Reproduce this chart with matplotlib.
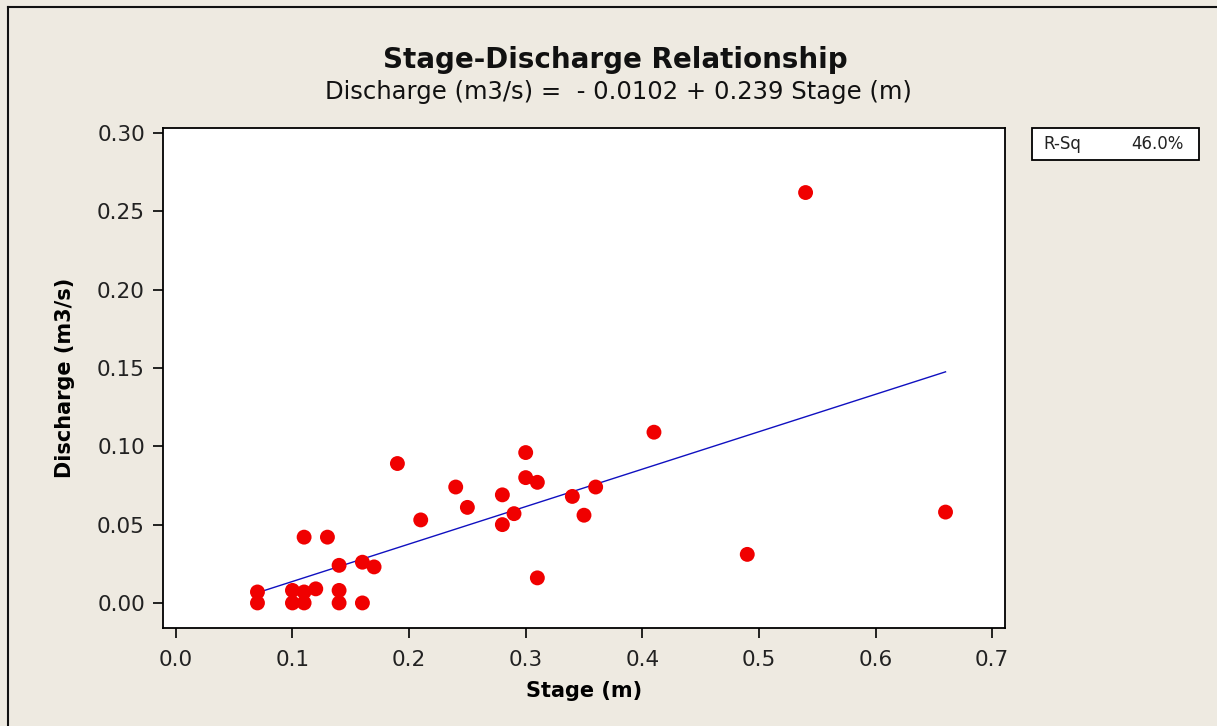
import matplotlib
matplotlib.use("Agg")
import matplotlib.pyplot as plt
from matplotlib.lines import Line2D
import numpy as np

# Data
stage = [0.07, 0.07, 0.10, 0.10, 0.11, 0.11, 0.12, 0.14, 0.14, 0.16,
         0.14, 0.16, 0.17, 0.11, 0.13, 0.19, 0.21, 0.24, 0.25, 0.28,
         0.28, 0.29, 0.30, 0.30, 0.31, 0.31, 0.34, 0.35, 0.36, 0.41,
         0.49, 0.54, 0.66]
discharge = [0.007, 0.000, 0.008, 0.000, 0.007, 0.000, 0.009, 0.008, 0.000, 0.000,
             0.024, 0.026, 0.023, 0.042, 0.042, 0.089, 0.053, 0.074, 0.061, 0.069,
             0.050, 0.057, 0.096, 0.080, 0.077, 0.016, 0.068, 0.056, 0.074, 0.109,
             0.031, 0.262, 0.058]
intercept = -0.0102
slope = 0.239
r_sq_label = "46.0%"
x_ticks = [0.0, 0.1, 0.2, 0.3, 0.4, 0.5, 0.6, 0.7]
y_ticks = [0.00, 0.05, 0.10, 0.15, 0.20, 0.25, 0.30]

bg = "#EEEAE1"
fig = plt.figure(figsize=(12.17, 7.26), dpi=100, facecolor=bg)
ax = fig.add_axes([163/1217, 1-628/726, (1005-163)/1217, (628-128)/726])
ax.set_facecolor("white")

xs = np.array([min(stage), max(stage)])
ax.plot(xs, intercept + slope * xs, color="#1010C0", lw=1.0, zorder=2)
ax.scatter(stage, discharge, s=115, color="#F00000", edgecolors="none", zorder=3)

ax.set_xlim(-0.011, 0.711)
ax.set_ylim(-0.016, 0.3032)
ax.set_xticks(x_ticks)
ax.set_xticklabels([f"{v:.1f}" for v in x_ticks])
ax.set_yticks(y_ticks)
ax.set_yticklabels([f"{v:.2f}" for v in y_ticks])
ax.tick_params(direction="out", length=7, width=1.2, labelsize=15.5,
               colors="black", labelcolor="#222222")
ax.tick_params(axis="x", pad=9)
ax.tick_params(axis="y", pad=6)
for sp in ax.spines.values():
    sp.set_linewidth(1.3)
    sp.set_color("black")

ax.set_xlabel("Stage (m)", fontsize=15, fontweight="bold", labelpad=8)
ax.set_ylabel("Discharge (m3/s)", fontsize=15, fontweight="bold", labelpad=16)

fig.text(615/1217, 1-60/726, "Stage-Discharge Relationship", ha="center", va="center",
         fontsize=20, fontweight="bold", color="#111111")
fig.text(618/1217, 1-92/726, "Discharge (m3/s) =  - 0.0102 + 0.239 Stage (m)",
         ha="center", va="center", fontsize=17.5, color="#111111")

# R-Sq box
bx0, by0, bx1, by1 = 1032, 128, 1199, 160
rect = plt.Rectangle((bx0/1217, 1-by1/726), (bx1-bx0)/1217, (by1-by0)/726,
                     transform=fig.transFigure, facecolor="white", edgecolor="black", lw=1.3)
fig.patches.append(rect)
fig.text(1043/1217, 1-144/726, "R-Sq", ha="left", va="center", fontsize=12, color="#222222")
fig.text(1184/1217, 1-144/726, r_sq_label, ha="right", va="center", fontsize=12, color="#222222")

# outer frame
fig.add_artist(Line2D([8/1217, 8/1217], [0, 1-7/726], transform=fig.transFigure, color="#111111", lw=1.5))
fig.add_artist(Line2D([8/1217, 1], [1-7/726, 1-7/726], transform=fig.transFigure, color="#111111", lw=1.5))

fig.savefig("out.png", dpi=100, facecolor=bg)
